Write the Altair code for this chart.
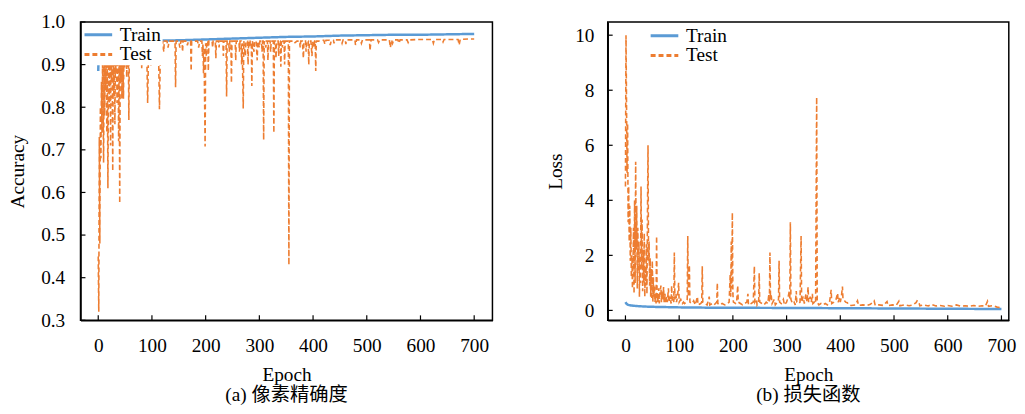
import altair as alt
import pandas as pd

FONT = "Liberation Serif, Noto Sans CJK SC"
SERIES = ["Train", "Test"]
COLORS = ["#5b9bd5", "#ed7d31"]

# ---------------- Accuracy (a) ----------------
acc_train_epoch = [0, 1, 2, 4, 10, 30, 60, 100, 150, 200, 250, 300, 350, 400, 450, 500, 550, 600, 650, 700]
acc_train_value = [0.885, 0.93, 0.945, 0.95, 0.952, 0.954, 0.955, 0.956, 0.957, 0.959, 0.961, 0.963,
                   0.965, 0.966, 0.968, 0.969, 0.970, 0.970, 0.971, 0.972]

acc_test_epoch = list(range(0, 61)) + [
    62, 66, 68, 72, 74, 80, 81, 82, 88, 90, 92, 94, 97, 98, 99, 104, 106, 108, 112, 114, 116, 119, 120,
    122, 123, 128, 130, 132, 143, 144, 145, 150, 152, 154, 156, 157, 158, 165, 166, 168, 172, 173, 174,
    185, 187, 189, 193, 194, 195, 196, 197, 199, 200, 201, 202, 204, 205, 206, 212, 213, 214, 218, 219,
    220, 224, 225, 226, 232, 233, 234, 238, 239, 240, 243, 244, 245, 247, 248, 249, 255, 256, 257, 262,
    263, 264, 266, 267, 268, 270, 271, 274, 275, 278, 279, 280, 282, 283, 285, 286, 287, 290, 291, 294,
    296, 297, 300, 301, 304, 305, 306, 307, 308, 309, 312, 313, 315, 316, 317, 320, 321, 322, 326, 327,
    328, 330, 331, 332, 335, 336, 337, 339, 340, 341, 343, 344, 346, 347, 348, 354, 355, 356, 362, 365,
    370, 375, 376, 377, 380, 382, 383, 386, 387, 388, 391, 392, 393, 396, 398, 399, 402, 403, 404, 405,
    406, 410, 415, 420, 422, 424, 430, 432, 434, 438, 439, 441, 448, 452, 454, 456, 460, 461, 463, 468,
    478, 479, 481, 488, 490, 492, 505, 506, 508, 520, 522, 524, 542, 544, 546, 548, 550, 558, 560, 562,
    575, 577, 579, 600, 622, 624, 626, 640, 642, 644, 660, 670, 672, 674, 690, 700]
acc_test_value = [
    0.45, 0.32, 0.73, 0.48, 0.80, 0.68, 0.86, 0.74, 0.90, 0.80, 0.67, 0.93, 0.78, 0.92, 0.84, 0.95,
    0.74, 0.90, 0.61, 0.88, 0.94, 0.80, 0.93, 0.71, 0.95, 0.86, 0.92, 0.65, 0.94, 0.83, 0.95, 0.76,
    0.93, 0.88, 0.95, 0.81, 0.94, 0.90, 0.72, 0.95, 0.575, 0.93, 0.86, 0.95, 0.82, 0.94, 0.90, 0.82,
    0.95, 0.89, 0.95, 0.91, 0.95, 0.87, 0.95, 0.90, 0.95, 0.77, 0.95, 0.93, 0.955,
    0.955, 0.93, 0.955, 0.94, 0.955, 0.955, 0.89, 0.955, 0.955, 0.955, 0.81, 0.955, 0.955, 0.895, 0.955,
    0.955, 0.935, 0.955, 0.955, 0.795, 0.955, 0.935, 0.955, 0.93, 0.955, 0.955, 0.94, 0.955, 0.955,
    0.847, 0.955, 0.955, 0.94, 0.955, 0.955, 0.93, 0.955, 0.955, 0.945, 0.955, 0.955, 0.885, 0.955,
    0.955, 0.94, 0.955, 0.955, 0.92, 0.95, 0.88, 0.94, 0.708, 0.95, 0.92, 0.955, 0.955, 0.885, 0.955,
    0.955, 0.94, 0.955, 0.955, 0.915, 0.955, 0.955, 0.94, 0.955, 0.955, 0.92, 0.955, 0.955, 0.825, 0.955,
    0.955, 0.93, 0.955, 0.955, 0.857, 0.955, 0.955, 0.91, 0.955, 0.955, 0.93, 0.955, 0.955, 0.90, 0.95,
    0.797, 0.955, 0.92, 0.955, 0.955, 0.90, 0.955, 0.94, 0.955, 0.955, 0.85, 0.955, 0.93, 0.955, 0.955,
    0.91, 0.955, 0.94, 0.955, 0.955, 0.93, 0.955, 0.955, 0.723, 0.955, 0.94, 0.955, 0.955, 0.91, 0.955,
    0.955, 0.93, 0.955, 0.955, 0.74, 0.955, 0.955, 0.915, 0.955, 0.955, 0.92, 0.955, 0.955, 0.895, 0.955,
    0.94, 0.955, 0.955, 0.90, 0.955, 0.955, 0.43, 0.955, 0.955, 0.95, 0.955, 0.955, 0.94, 0.955, 0.955,
    0.915, 0.955, 0.955, 0.93, 0.955, 0.955, 0.90, 0.955, 0.955, 0.92, 0.955, 0.94, 0.955, 0.955, 0.885,
    0.955, 0.955, 0.957, 0.957, 0.948, 0.957, 0.957, 0.946, 0.957, 0.957, 0.95, 0.958, 0.958, 0.958, 0.95,
    0.958, 0.958, 0.948, 0.958, 0.958, 0.958, 0.946, 0.958, 0.958, 0.95, 0.958, 0.958, 0.933, 0.958,
    0.958, 0.952, 0.958, 0.958, 0.94, 0.958, 0.95, 0.958, 0.958, 0.95, 0.958, 0.958, 0.952, 0.958, 0.959,
    0.959, 0.95, 0.959, 0.959, 0.953, 0.959, 0.959, 0.959, 0.946, 0.959, 0.96, 0.96]

# ---------------- Loss (b) ----------------
loss_train_epoch = [0, 2, 5, 10, 20, 35, 50, 75, 100, 150, 200, 300, 400, 500, 600, 700]
loss_train_value = [0.30, 0.24, 0.20, 0.18, 0.16, 0.14, 0.13, 0.12, 0.11, 0.10, 0.095, 0.09, 0.08,
                    0.07, 0.06, 0.05]

loss_test_epoch = list(range(0, 61)) + [
    61, 62, 63, 64, 66, 67, 68, 70, 71, 72, 74, 75, 77, 78, 80, 81, 83, 85, 86, 87, 89, 90, 91, 92, 94,
    95, 97, 99, 100, 103, 106, 108, 110, 113, 115, 116, 117, 119, 120, 124, 127, 130, 134, 135, 140, 142,
    143, 144, 148, 152, 156, 157, 162, 165, 170, 171, 172, 176, 180, 185, 190, 193, 195, 196, 197, 198,
    199, 200, 201, 205, 207, 209, 210, 214, 218, 222, 226, 228, 229, 234, 238, 240, 241, 244, 245, 248,
    249, 250, 254, 258, 262, 265, 267, 268, 269, 270, 271, 273, 277, 279, 283, 285, 286, 287, 290, 294,
    296, 300, 303, 305, 306, 307, 308, 311, 314, 316, 318, 319, 322, 325, 327, 328, 331, 333, 336, 338,
    340, 341, 344, 346, 348, 349, 352, 354, 356, 357, 360, 364, 368, 372, 376, 380, 383, 384, 388, 392,
    395, 396, 399, 400, 402, 404, 405, 408, 410, 413, 416, 420, 428, 432, 434, 442, 450, 456, 463, 465,
    472, 480, 487, 489, 497, 504, 509, 511, 520, 528, 535, 541, 543, 546, 548, 556, 564, 570, 578, 586,
    594, 600, 608, 616, 624, 632, 640, 648, 656, 664, 670, 674, 676, 684, 692, 700]
loss_test_value = [
    4.5, 10.0, 7.5, 5.0, 6.8, 3.2, 4.5, 2.5, 3.8, 1.8, 3.0, 1.2, 2.0, 0.8, 1.5, 3.0, 0.6, 4.0, 1.0,
    5.4, 2.2, 3.8, 0.8, 3.0, 1.4, 2.5, 0.5, 2.0, 1.0, 4.5, 1.5, 3.3, 0.7, 2.2, 1.0, 2.8, 0.5, 1.6,
    0.9, 2.4, 0.6, 3.5, 6.0, 1.8, 2.5, 0.9, 1.9, 0.5, 1.5, 0.4, 1.8, 0.3, 1.2, 0.5, 0.9, 0.3, 0.6,
    0.25, 2.7, 0.3, 0.5,
    0.3, 0.8, 0.25, 0.6, 0.9, 0.3, 0.7, 0.4, 0.85, 0.3, 0.6, 0.25, 0.5, 0.3, 0.8, 0.3, 0.5, 0.25, 0.9,
    0.3, 0.5, 0.3, 2.1, 0.4, 0.6, 0.3, 0.5, 1.0, 0.3, 0.4, 0.25, 0.3, 0.25, 0.3, 0.4, 2.7, 0.5, 1.65,
    0.3, 0.25, 0.35, 0.2, 0.5, 0.2, 0.25, 0.3, 1.6, 0.3, 0.25, 0.2, 0.5, 0.2, 0.25, 0.2, 0.3, 1.0, 0.25,
    0.2, 0.25, 0.2, 0.25, 0.3, 1.3, 0.5, 2.5, 0.8, 3.55, 0.6, 0.3, 0.25, 0.3, 0.9, 0.3, 0.25, 0.2, 0.25,
    0.3, 0.6, 0.2, 0.25, 0.3, 1.6, 0.3, 0.4, 0.2, 0.3, 1.35, 0.3, 0.25, 0.2, 0.3, 0.25, 0.6, 0.3, 2.1,
    0.4, 0.6, 0.25, 0.4, 0.2, 0.3, 0.4, 1.8, 0.3, 0.25, 0.4, 0.2, 0.3, 0.5, 0.7, 0.4, 3.2, 0.4, 0.25,
    0.3, 0.2, 0.7, 0.3, 0.25, 0.3, 2.7, 0.3, 0.5, 0.25, 0.6, 0.3, 0.85, 0.3, 0.5, 0.3, 0.6, 0.25, 0.3,
    0.25, 7.75, 0.3, 0.2, 0.25, 0.2, 0.25, 0.2, 0.3, 0.75, 0.25, 0.3, 0.4, 0.63, 0.3, 0.45, 0.3, 0.5,
    0.87, 0.4, 0.35, 0.3, 0.28, 0.2, 0.18, 0.2, 0.35, 0.18, 0.2, 0.18, 0.22, 0.35, 0.18, 0.2, 0.18,
    0.32, 0.17, 0.2, 0.18, 0.33, 0.17, 0.2, 0.17, 0.2, 0.28, 0.35, 0.32, 0.17, 0.2, 0.16, 0.22, 0.16,
    0.18, 0.15, 0.18, 0.15, 0.2, 0.15, 0.17, 0.15, 0.18, 0.15, 0.17, 0.15, 0.33, 0.15, 0.17, 0.12, 0.1]

x_ticks = [0, 100, 200, 300, 400, 500, 600, 700]
acc_ticks = [0.3, 0.4, 0.5, 0.6, 0.7, 0.8, 0.9, 1.0]
loss_ticks = [0, 2, 4, 6, 8, 10]

H = 302
FS = 19.5


def panel(tr_e, tr_v, te_e, te_v, width, xdomain, ydomain, yticks, ytitle, subtitle,
          legend_opts, label_pad, title_pad, fmt):
    train_df = pd.DataFrame({"epoch": tr_e, "value": tr_v, "series": "Train"})
    test_df = pd.DataFrame({"epoch": te_e, "value": te_v, "series": "Test"})
    xscale = alt.Scale(domain=xdomain, nice=False, zero=False)
    yscale = alt.Scale(domain=ydomain, nice=False, zero=False)
    legend = alt.Legend(
        title=None, orient="none", labelFont=FONT, labelFontSize=FS, labelColor="black",
        symbolType="M-2,0L2,0", symbolSize=196, symbolStrokeWidth=3, labelOffset=12,
        rowPadding=-2, labelLimit=200, **legend_opts)
    color = alt.Color("series:N", scale=alt.Scale(domain=SERIES, range=COLORS), legend=legend)
    dash = alt.StrokeDash("series:N", scale=alt.Scale(domain=SERIES, range=[[1, 0], [5, 3]]),
                          legend=legend)
    xaxis = alt.Axis(values=x_ticks, tickSize=0, labelPadding=17, titlePadding=10, grid=False,
                     labelFlush=False, domain=True, domainColor="black", domainWidth=1.5,
                     labelFont=FONT, labelFontSize=FS, labelColor="black",
                     titleFont=FONT, titleFontSize=FS, titleFontWeight="normal", titleColor="black")
    yaxis = alt.Axis(values=yticks, tickSize=0, labelPadding=label_pad, titlePadding=title_pad,
                     grid=False, format=fmt, domain=True, domainColor="black", domainWidth=1.5,
                     labelFont=FONT, labelFontSize=FS, labelColor="black",
                     titleFont=FONT, titleFontSize=FS, titleFontWeight="normal", titleColor="black")
    xenc = alt.X("epoch:Q", scale=xscale, title="Epoch", axis=xaxis)
    yenc = alt.Y("value:Q", scale=yscale, title=ytitle, axis=yaxis)
    train = alt.Chart(train_df).mark_line(strokeWidth=2.5).encode(
        x=xenc, y=yenc, color=color, strokeDash=dash)
    test = alt.Chart(test_df).mark_line(strokeWidth=1.6).encode(
        x=xenc, y=yenc, color=color, strokeDash=dash)
    xt = alt.Chart(pd.DataFrame({"epoch": x_ticks})).mark_rule(
        color="black", strokeWidth=1.2).encode(x=xenc, y=alt.value(H), y2=alt.value(H - 5))
    yt = alt.Chart(pd.DataFrame({"value": yticks})).mark_rule(
        color="black", strokeWidth=1.2).encode(y=yenc, x=alt.value(0), x2=alt.value(5))
    return alt.layer(train, test, xt, yt).properties(
        width=width, height=H,
        title=alt.TitleParams(subtitle, orient="bottom", font=FONT, fontSize=FS,
                              fontWeight="normal", color="black", offset=3, anchor="middle"))


left = panel(acc_train_epoch, acc_train_value, acc_test_epoch, acc_test_value, 417, [-33, 734],
             [0.3, 1.0], acc_ticks, "Accuracy", "(a) 像素精确度",
             dict(legendX=7.1, legendY=1.9, padding=1.2, fillColor="white"), 16, 13, ".1f")
right = panel(loss_train_epoch, loss_train_value, loss_test_epoch, loss_test_value, 406,
              [-33, 713.7], [-0.36, 10.48], loss_ticks, "Loss", "(b) 损失函数",
              dict(legendX=45.2, legendY=1.6, padding=2.5), 14, 9, "d")

chart = alt.hconcat(left, right, spacing=51.7).resolve_scale(
    color="shared", strokeDash="shared"
).resolve_legend(
    color="independent", strokeDash="independent"
).properties(
    padding={"left": -1.6, "top": 0.7, "right": 0, "bottom": -1}
).configure(
    background="white"
).configure_view(
    stroke="black", strokeWidth=1.5
)

chart.save("out.html", embed_options={"renderer": "svg", "actions": False})
